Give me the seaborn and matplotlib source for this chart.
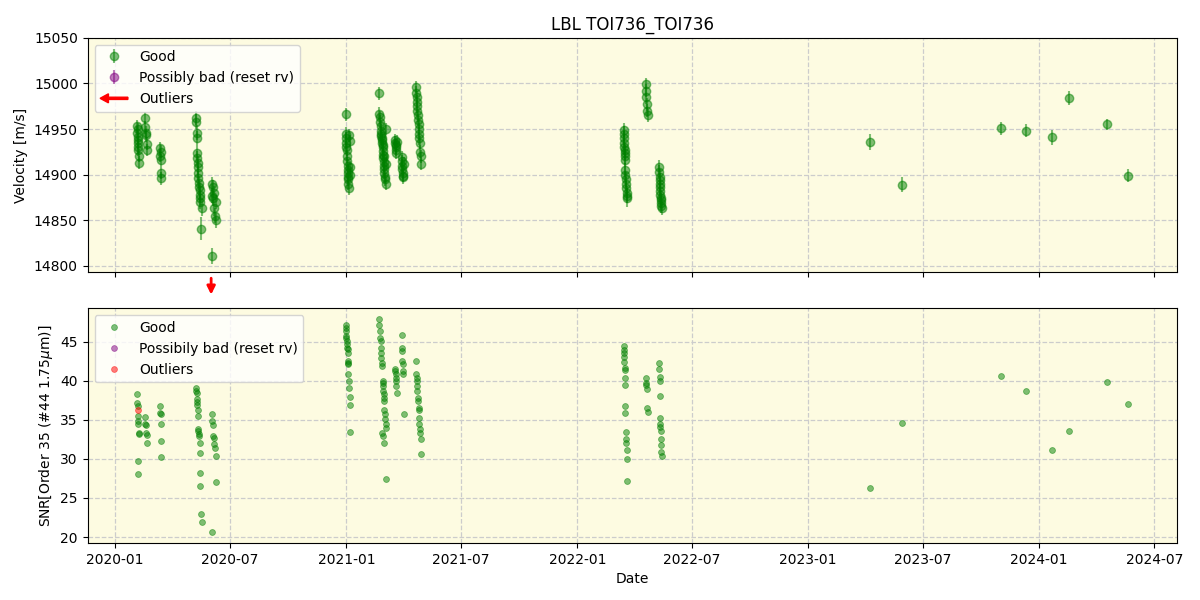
import numpy as np
import pandas as pd
import matplotlib
matplotlib.use("Agg")
import matplotlib.pyplot as plt
import matplotlib.dates as mdates
import matplotlib.patches as mpatches
from matplotlib.lines import Line2D
from matplotlib.legend_handler import HandlerPatch
import seaborn as sns

# ---------------- data (days since 2020-01-01) ----------------
base_date = "2020-01-01"

obs_day = [
    35, 35, 36, 36, 37, 37, 38, 38, 36, 37,
    48, 48, 49, 49, 50, 51,
    71, 71, 72, 72, 73, 73,
    128, 128, 129, 129, 130, 130, 131, 131, 132, 132, 133, 133, 134, 134, 135, 135, 136, 137,
    153, 153, 154, 155, 155, 156, 157, 158, 159, 160,
    365, 365, 366, 366, 366, 367, 367, 367, 368, 368, 368, 369, 369, 369, 370, 370, 371, 371, 372,
    418, 418, 419, 419, 420, 420, 421, 421, 422, 422, 423, 423, 424, 424, 425, 425, 426, 426, 427, 427, 428, 428, 422, 424, 426, 428,
    443, 443, 444, 444, 445, 445, 446,
    453, 453, 454, 454, 455, 456, 456, 457,
    476, 476, 477, 477, 478, 478, 479, 479, 480, 480, 481, 481, 482, 482, 483, 484,
    804, 804, 805, 805, 805, 806, 806, 806, 807, 807, 807, 808, 808, 808, 809, 809, 810,
    839, 840, 840, 841, 841, 842,
    860, 860, 861, 861, 861, 862, 862, 862, 863, 863, 864, 864, 865,
    1193, 1245, 1400, 1440, 1481, 1508, 1569, 1601,
]

rv = [
    14953, 14946, 14941, 14935, 14930, 14927, 14921, 14913, 14950, 14938,
    14962, 14952, 14946, 14943, 14934, 14927,
    14929, 14921, 14916, 14902, 14896, 14925,
    14962, 14958, 14946, 14940, 14924, 14918, 14913, 14908, 14902, 14896, 14891, 14886, 14883, 14878, 14875, 14870, 14841, 14864,
    14811, 14890, 14877, 14886, 14874, 14863, 14880, 14855, 14850, 14870,
    14966, 14945, 14940, 14935, 14930, 14927, 14920, 14915, 14910, 14905, 14902, 14898, 14895, 14890, 14885, 14943, 14937, 14908, 14900,
    14989, 14967, 14963, 14958, 14953, 14948, 14945, 14942, 14938, 14935, 14930, 14926, 14922, 14918, 14914, 14910, 14906, 14902, 14898, 14895, 14890, 14950, 14940, 14932, 14920, 14912,
    14938, 14935, 14932, 14930, 14927, 14924, 14936,
    14919, 14915, 14910, 14906, 14902, 14899, 14897, 14912,
    14996, 14990, 14985, 14980, 14975, 14970, 14965, 14960, 14955, 14950, 14945, 14940, 14935, 14925, 14920, 14912,
    14949, 14945, 14940, 14935, 14930, 14927, 14924, 14920, 14916, 14905, 14900, 14895, 14890, 14885, 14880, 14877, 14875,
    14999, 14992, 14985, 14977, 14970, 14965,
    14908, 14903, 14898, 14894, 14890, 14886, 14882, 14878, 14875, 14872, 14869, 14866, 14864,
    14936, 14889, 14951, 14948, 14941, 14984, 14955, 14899,
]

rv_err = [
    7, 7, 7, 7, 7, 7, 7, 7, 7, 7,
    7, 7, 7, 7, 7, 7,
    7, 7, 7, 7, 7, 7,
    8, 8, 8, 8, 8, 8, 8, 8, 8, 8, 8, 8, 8, 8, 8, 8, 13, 9,
    9, 8, 8, 8, 8, 8, 8, 8, 8, 8,
    7, 7, 7, 7, 7, 7, 7, 7, 7, 7, 7, 7, 7, 7, 7, 7, 7, 7, 7,
    7, 7, 7, 7, 7, 7, 7, 7, 7, 7, 7, 7, 7, 7, 7, 7, 7, 7, 7, 7, 7, 7, 7, 7, 7, 7,
    7, 7, 7, 7, 7, 7, 7,
    7, 7, 7, 7, 7, 7, 7, 7,
    7, 7, 7, 7, 7, 7, 7, 7, 7, 7, 7, 7, 7, 7, 7, 7,
    8, 8, 8, 8, 8, 8, 8, 8, 8, 8, 8, 8, 8, 8, 8, 8, 10,
    7, 7, 7, 7, 7, 7,
    8, 8, 8, 8, 8, 8, 8, 8, 8, 8, 8, 8, 8,
    9, 8, 7, 7, 8, 8, 6, 7,
]

snr = [
    38.3, 37.2, 36.8, 35.5, 34.9, 34.5, 33.3, 33.2, 29.7, 28.1,
    35.4, 34.5, 34.4, 33.3, 33.0, 32.1,
    36.8, 35.9, 35.8, 34.5, 32.3, 30.3,
    39.1, 38.7, 38.5, 37.7, 37.3, 36.9, 36.2, 35.5, 33.8, 33.6, 33.2, 32.9, 32.1, 30.8, 28.2, 26.5, 22.9, 21.9,
    20.6, 35.8, 34.9, 34.4, 32.9, 32.7, 31.9, 31.4, 30.4, 27.1,
    47.1, 46.7, 46.4, 45.8, 45.5, 45.1, 44.7, 44.2, 44.1, 43.6, 42.6, 42.3, 42.2, 40.9, 40.0, 39.1, 37.9, 36.9, 33.5,
    47.9, 47.1, 46.4, 45.5, 45.1, 44.2, 43.5, 42.9, 42.3, 41.9, 40.0, 39.7, 39.4, 38.7, 38.3, 37.8, 37.4, 36.2, 35.8, 35.1, 34.5, 34.0, 33.3, 32.9, 32.1, 27.4,
    41.5, 41.3, 40.9, 40.4, 40.0, 39.4, 38.5,
    45.9, 44.2, 43.8, 42.6, 42.2, 41.3, 40.9, 35.8,
    42.6, 40.9, 40.4, 40.0, 39.4, 38.7, 37.8, 37.4, 36.5, 36.2, 35.3, 34.5, 33.8, 33.3, 32.6, 30.6,
    44.4, 44.0, 43.5, 43.1, 42.4, 41.7, 41.4, 40.3, 39.5, 36.8, 35.9, 33.5, 32.6, 32.1, 31.2, 30.0, 27.2,
    40.3, 39.7, 39.5, 39.0, 36.5, 36.0,
    42.3, 41.5, 40.5, 40.0, 38.1, 35.3, 34.5, 34.1, 33.6, 32.6, 31.8, 30.9, 30.4,
    26.3, 34.6, 40.6, 38.7, 31.2, 33.6, 39.9, 37.0,
]

# outliers
outlier_rv_day = [152]        # arrow (RV below plotted range)
outlier_snr_day = [36]
outlier_snr = [36.3]

rv_ylim = (14793, 15050)

title = "LBL TOI736_TOI736"
labels_top = ["Good", "Possibly bad (reset rv)", "Outliers"]
labels_bot = ["Good", "Possibily bad (reset rv)", "Outliers"]

# ---------------- build frames ----------------
base = pd.Timestamp(base_date)
df = pd.DataFrame({
    "date": base + pd.to_timedelta(obs_day, unit="D"),
    "rv": rv, "err": rv_err, "snr": snr,
})
df_out = pd.DataFrame({
    "date": base + pd.to_timedelta(outlier_snr_day, unit="D"),
    "snr": outlier_snr,
})
out_rv_dates = base + pd.to_timedelta(outlier_rv_day, unit="D")

# ---------------- plot ----------------
sns.set_style("ticks")
plt.rcParams.update({
    "font.family": ["DejaVu Sans"],
    "text.color": "black",
    "axes.labelcolor": "black",
    "xtick.color": "black",
    "ytick.color": "black",
    "axes.edgecolor": "black",
})

fig, (ax1, ax2) = plt.subplots(2, 1, figsize=(12, 6), dpi=100, sharex=True)
fig.subplots_adjust(left=0.073, right=0.981, top=0.937, bottom=0.095, hspace=0.154)

bg = "#fdfbe1"
for ax in (ax1, ax2):
    ax.set_facecolor(bg)
    ax.grid(True, linestyle="--", color="#cccccc", linewidth=0.9)
    for s in ax.spines.values():
        s.set_visible(True)
        s.set_color("black")
        s.set_linewidth(0.8)

# top panel
h_good = ax1.errorbar(df["date"], df["rv"], yerr=df["err"], fmt="o", color="green",
                      alpha=0.5, ms=6, elinewidth=1.5, label=labels_top[0])
h_bad = ax1.errorbar([], [], yerr=[], fmt="o", color="purple", alpha=0.5, ms=6,
                     label=labels_top[1])
for d in out_rv_dates:
    x = mdates.date2num(d)
    ax1.annotate("", xy=(x, -0.095), xytext=(x, -0.025),
                 xycoords=("data", "axes fraction"), textcoords=("data", "axes fraction"),
                 arrowprops=dict(arrowstyle="-|>", color="red", lw=2,
                                 mutation_scale=12, shrinkA=0, shrinkB=0),
                 annotation_clip=False)
ax1.set_ylim(*rv_ylim)
ax1.set_ylabel("Velocity [m/s]")
ax1.set_title(title, fontsize=12, color="black")

arrow_proxy = mpatches.FancyArrow(0, 0, 1, 0, color="red")


def make_arrow(legend, orig_handle, xdescent, ydescent, width, height, fontsize):
    return mpatches.FancyArrow(width - xdescent, 0.5 * height - ydescent, -width, 0,
                               width=1.6, head_width=6.5, head_length=6,
                               length_includes_head=True, color="red")


ax1.legend([h_good, h_bad, arrow_proxy], labels_top, loc="upper left",
           handler_map={mpatches.FancyArrow: HandlerPatch(patch_func=make_arrow)},
           framealpha=0.8, fontsize=10)

# bottom panel
sns.scatterplot(data=df, x="date", y="snr", ax=ax2, color="green", alpha=0.5,
                s=18, linewidth=0.6, edgecolor="green", marker="o")
sns.scatterplot(data=df_out, x="date", y="snr", ax=ax2, color="red", alpha=0.5,
                s=18, linewidth=0.6, edgecolor="red", marker="o")
ax2.set_ylabel("SNR[Order 35 (#44 1.75$\\mu$m)]")
ax2.set_xlabel("Date")

hb = [Line2D([], [], marker="o", ls="", ms=4.2, mew=0.6, color=c, alpha=0.5)
      for c in ("green", "purple", "red")]
ax2.legend(hb, labels_bot, loc="upper left", framealpha=0.8, fontsize=10)

ax2.xaxis.set_major_locator(mdates.MonthLocator(bymonth=[1, 7]))
ax2.xaxis.set_major_formatter(mdates.DateFormatter("%Y-%m"))
ax2.set_yticks([20, 25, 30, 35, 40, 45])
for ax in (ax1, ax2):
    ax.tick_params(direction="out", length=3.5, width=0.8, colors="black")

fig.savefig("out.png", dpi=100)
